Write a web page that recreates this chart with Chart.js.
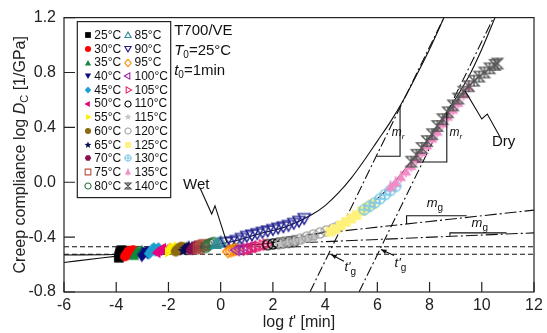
<!DOCTYPE html>
<html>
<head>
<meta charset="utf-8">
<script src="https://cdn.jsdelivr.net/npm/chart.js@4.4.0/dist/chart.umd.min.js"></script>
<style>
  body { margin: 0; background: #fff; }
</style>
</head>
<body>
<canvas id="chart" width="547" height="333"></canvas>
<script>
// axis ticks
const xTicks = [-6, -4, -2, 0, 2, 4, 6, 8, 10, 12];
const yTicks = [-0.8, -0.4, 0.0, 0.4, 0.8, 1.2];

// temperatures (legend order)
const temps = ['25°C', '30°C', '35°C', '40°C', '45°C', '50°C', '55°C', '60°C', '65°C', '70°C', '75°C', '80°C',
  '85°C', '90°C', '95°C', '100°C', '105°C', '110°C', '115°C', '120°C', '125°C', '130°C', '135°C', '140°C'];

// [log t', log Dc]
const c25 = [[-3.9, -0.55], [-3.88, -0.535], [-3.86, -0.52], [-3.84, -0.505], [-3.8, -0.495], [-3.76, -0.53], [-3.72, -0.515], [-3.68, -0.5]];
const c30 = [[-3.66, -0.54], [-3.6, -0.525], [-3.55, -0.51], [-3.5, -0.5], [-3.45, -0.52], [-3.4, -0.505], [-3.35, -0.495]];
const c35 = [[-3.32, -0.535], [-3.27, -0.52], [-3.22, -0.505], [-3.17, -0.495], [-3.12, -0.515], [-3.07, -0.5], [-3.02, -0.49]];
const c40 = [[-3.02, -0.55], [-2.96, -0.535], [-2.9, -0.52], [-2.85, -0.505], [-2.8, -0.53], [-2.75, -0.515], [-2.7, -0.5]];
const c45 = [[-2.74, -0.52], [-2.68, -0.505], [-2.62, -0.49], [-2.56, -0.48], [-2.5, -0.5], [-2.44, -0.49], [-2.38, -0.48]];
const c50 = [[-2.42, -0.515], [-2.35, -0.5], [-2.28, -0.49], [-2.21, -0.48], [-2.15, -0.5], [-2.08, -0.49], [-2.02, -0.48]];
const c55 = [[-2.02, -0.51], [-1.96, -0.495], [-1.9, -0.485], [-1.84, -0.475], [-1.78, -0.495], [-1.72, -0.48], [-1.67, -0.47]];
const c60 = [[-1.72, -0.505], [-1.65, -0.49], [-1.58, -0.48], [-1.51, -0.47], [-1.46, -0.49], [-1.4, -0.475]];
const c65 = [[-1.43, -0.5], [-1.36, -0.485], [-1.29, -0.475], [-1.22, -0.465], [-1.16, -0.485], [-1.1, -0.47]];
const c70 = [[-1.13, -0.495], [-1.06, -0.48], [-0.99, -0.47], [-0.92, -0.46], [-0.86, -0.48], [-0.8, -0.465]];
const c75 = [[-0.85, -0.485], [-0.77, -0.47], [-0.7, -0.46], [-0.63, -0.455]];
const c80 = [[-0.58, -0.475], [-0.5, -0.46], [-0.42, -0.45], [-0.34, -0.445], [-0.26, -0.44]];
const c85 = [[-0.2, -0.45], [-0.1, -0.44], [0.0, -0.43]];
const c90 = [[0.2, -0.44], [0.4, -0.435], [0.6, -0.425], [0.8, -0.41], [1.0, -0.395], [1.2, -0.385], [1.4, -0.375],
  [1.6, -0.365], [1.8, -0.355], [2.0, -0.345], [2.2, -0.335], [2.4, -0.325], [2.6, -0.315], [2.8, -0.3],
  [3.0, -0.285], [3.2, -0.265]];
const c95 = [[0.28, -0.505], [0.38, -0.5], [0.48, -0.495], [0.58, -0.49]];
const c100 = [[0.6, -0.495], [0.75, -0.49], [0.9, -0.485], [1.05, -0.48], [1.2, -0.47]];
const c105 = [[1.0, -0.49], [1.15, -0.485], [1.3, -0.475], [1.45, -0.47], [1.6, -0.46], [1.75, -0.455]];
const c110 = [[1.8, -0.455], [2.0, -0.45], [2.2, -0.445], [2.4, -0.44], [2.6, -0.437], [2.8, -0.433]];
const c115 = [[2.3, -0.45], [2.55, -0.44], [2.8, -0.43], [3.05, -0.42], [3.3, -0.41], [3.55, -0.4]];
const c120 = [[2.3, -0.445], [2.55, -0.435], [2.8, -0.425], [3.05, -0.415], [3.3, -0.4], [3.55, -0.385],
  [3.8, -0.37], [4.05, -0.355], [4.3, -0.34], [4.5, -0.325]];
const c125 = [[4.2, -0.36], [4.4, -0.34], [4.6, -0.315], [4.8, -0.29], [5.0, -0.265], [5.2, -0.24], [5.4, -0.21],
  [5.6, -0.185], [5.8, -0.16]];
const c130 = [[5.5, -0.2], [5.7, -0.175], [5.9, -0.15], [6.1, -0.12], [6.3, -0.09], [6.5, -0.06], [6.7, -0.03]];
const c135 = [[6.5, -0.03], [6.7, 0.0], [6.9, 0.04], [7.1, 0.08], [7.3, 0.12], [7.5, 0.17], [7.7, 0.22], [7.9, 0.27],
  [8.1, 0.32], [8.3, 0.37], [8.5, 0.43], [8.7, 0.48], [8.9, 0.53], [9.1, 0.58], [9.3, 0.64], [9.5, 0.7]];
const c140 = [[7.3, 0.15], [7.5, 0.2], [7.7, 0.25], [7.9, 0.3], [8.1, 0.35], [8.3, 0.41], [8.5, 0.46], [8.7, 0.51],
  [8.9, 0.56], [9.1, 0.61], [9.3, 0.66], [9.5, 0.7], [9.7, 0.74], [9.9, 0.77], [10.1, 0.8], [10.3, 0.83],
  [10.5, 0.855], [10.6, 0.865]];
const series = [c25, c30, c35, c40, c45, c50, c55, c60, c65, c70, c75, c80,
  c85, c90, c95, c100, c105, c110, c115, c120, c125, c130, c135, c140];

// master curves and guide lines
const wetCurve = [[-6, -0.585], [-4.5, -0.55], [-3.8, -0.535], [-2, -0.5], [-0.5, -0.465], [0.5, -0.43],
  [1.5, -0.375], [2.5, -0.325], [3.5, -0.235], [4, -0.17], [4.5, -0.08], [5, 0.03], [5.5, 0.16],
  [6, 0.3], [6.5, 0.44], [7, 0.6], [7.5, 0.78], [8, 0.97], [8.6, 1.22]];
const dryCurve = [[-6, -0.53], [-3.8, -0.525], [-2, -0.5], [0, -0.47], [1, -0.46], [2, -0.44], [3, -0.405],
  [4, -0.36], [4.5, -0.33], [5, -0.28], [5.5, -0.21], [6, -0.12], [6.5, -0.03], [7, 0.08], [7.5, 0.2],
  [8, 0.33], [8.5, 0.47], [9, 0.61], [9.5, 0.77], [10, 0.97], [10.55, 1.22]];
const glassLevelHigh = [[-6, -0.47], [12, -0.47]];
const glassLevelLow = [[-6, -0.525], [12, -0.525]];
const rubberyWet = [[3.42, -0.8], [8.55, 1.2]];
const rubberyDry = [[5.3, -0.8], [10.45, 1.2]];
const glassyWet = [[2.5, -0.4], [12, -0.203]];
const glassyDry = [[2.5, -0.445], [12, -0.369]];

// marker looks
const shapes = ['square', 'circle', 'triUp', 'triDown', 'diamond', 'triLeft', 'triRight', 'circle', 'star', 'hexagon',
  'square', 'circle', 'triUp', 'triDown', 'diamond', 'triLeft', 'triRight', 'circle', 'star', 'circle',
  'square', 'circlePlus', 'triStem', 'hourglass'];
const colors = ['#000000', '#ff0000', '#138a3c', '#0a0a80', '#1e9fd0', '#e6007e', '#ffee00', '#8c6a12', '#0a0a55', '#8a0f4e',
  '#b5533c', '#2f6f3f', '#2f8f9f', '#1c1c8c', '#ff8c00', '#a020a0', '#e8206f', '#000000', '#c4c4c4', '#a0a0a0',
  '#fff27a', '#7fc8e8', '#f38cc6', '#555555'];
const filled = [true, true, true, true, true, true, true, true, true, true,
  false, false, false, false, false, false, false, false, true, false,
  true, false, true, false];

const FONT = '"Liberation Sans", Arial, sans-serif';

function makeMarker(shape, color, fill, r) {
  const size = Math.ceil(2 * r + 4);
  const cv = document.createElement('canvas');
  cv.width = size; cv.height = size;
  const g = cv.getContext('2d');
  g.translate(size / 2, size / 2);
  g.strokeStyle = color; g.fillStyle = color;
  g.lineWidth = r > 4 ? 1.4 : 1.1;
  const poly = (pts) => {
    g.beginPath();
    pts.forEach((p, i) => i ? g.lineTo(p[0], p[1]) : g.moveTo(p[0], p[1]));
    g.closePath();
  };
  const tri = (rot) => {
    const pts = [];
    for (let k = 0; k < 3; k++) {
      const a = rot + k * 2 * Math.PI / 3;
      pts.push([r * Math.sin(a), -r * Math.cos(a) + (rot === 0 ? r * 0.2 : rot === Math.PI ? -r * 0.2 : 0)]);
    }
    poly(pts);
  };
  switch (shape) {
    case 'square': g.beginPath(); g.rect(-r * 0.8, -r * 0.8, r * 1.6, r * 1.6); break;
    case 'circle': g.beginPath(); g.arc(0, 0, r * 0.85, 0, 2 * Math.PI); break;
    case 'triUp': tri(0); break;
    case 'triDown': tri(Math.PI); break;
    case 'triLeft': tri(-Math.PI / 2); break;
    case 'triRight': tri(Math.PI / 2); break;
    case 'diamond': poly([[0, -r], [r * 0.9, 0], [0, r], [-r * 0.9, 0]]); break;
    case 'star': {
      const pts = [];
      for (let k = 0; k < 10; k++) {
        const rr = k % 2 ? r * 0.45 : r;
        const a = k * Math.PI / 5;
        pts.push([rr * Math.sin(a), -rr * Math.cos(a)]);
      }
      poly(pts); break;
    }
    case 'hexagon': {
      const pts = [];
      for (let k = 0; k < 6; k++) {
        const a = k * Math.PI / 3;
        pts.push([r * 0.9 * Math.cos(a), r * 0.9 * Math.sin(a)]);
      }
      poly(pts); break;
    }
    case 'circlePlus': g.beginPath(); g.arc(0, 0, r * 0.85, 0, 2 * Math.PI); break;
    case 'triStem': tri(0); break;
    case 'hourglass': poly([[-r * 0.85, -r * 0.85], [r * 0.85, -r * 0.85], [-r * 0.85, r * 0.85], [r * 0.85, r * 0.85]]); break;
  }
  if (fill) g.fill(); else g.stroke();
  if (shape === 'circlePlus' || shape === 'hourglass' || shape === 'triStem') {
    g.beginPath();
    g.moveTo(0, -r); g.lineTo(0, r);
    if (shape === 'circlePlus') { g.moveTo(-r, 0); g.lineTo(r, 0); }
    g.stroke();
  }
  return cv;
}

const plotMarkers = series.map((s, i) => makeMarker(shapes[i], colors[i], filled[i], i === 13 ? 7 : 6));
const legendMarkers = series.map((s, i) => makeMarker(shapes[i], colors[i], filled[i], 3.6));

const toXY = (arr) => arr.map(p => ({ x: p[0], y: p[1] }));

const datasets = series.map((s, i) => ({
  label: temps[i],
  data: toXY(s),
  pointStyle: plotMarkers[i],
  pointRadius: 6,
  showLine: false,
  order: -i
}));

function guide(arr, dash, smooth) {
  return {
    data: toXY(arr), showLine: true, pointRadius: 0, borderColor: '#111', borderWidth: 1.1,
    borderDash: dash, tension: smooth ? 0.4 : 0, cubicInterpolationMode: smooth ? 'monotone' : 'default',
    order: 10
  };
}
datasets.push(guide(wetCurve, [], true));
datasets.push(guide(dryCurve, [], true));
datasets.push(guide(glassLevelHigh, [5, 3], false));
datasets.push(guide(glassLevelLow, [5, 3], false));
datasets.push(guide(rubberyWet, [10, 3, 2, 3], false));
datasets.push(guide(rubberyDry, [10, 3, 2, 3], false));
datasets.push(guide(glassyWet, [12, 3, 2, 3], false));
datasets.push(guide(glassyDry, [12, 3, 2, 3], false));

// annotation geometry (data coordinates)
const slopeMarks = [
  [[5.97, 0.189], [6.87, 0.189], [6.87, 0.554]],
  [[7.51, 0.148], [8.66, 0.148], [8.66, 0.509]],
  [[7.12, -0.304], [7.12, -0.244], [9.42, -0.244]],
  [[8.78, -0.39], [8.78, -0.369], [10.95, -0.369]],
  [[-0.79, -0.042], [-0.343, -0.232], [-0.217, -0.172], [0.231, -0.437]],
  [[9.36, 0.666], [10.0, 0.461], [10.21, 0.497], [10.7, 0.329]]
];
const arrows = [
  [[4.72, -0.576], [4.23, -0.526]],
  [[6.64, -0.534], [6.14, -0.49]]
];

function richText(ctx, parts, x, y, align) {
  const fontOf = p => (p[2] ? 'italic ' : '') + p[1] + 'px ' + FONT;
  const widths = parts.map(p => { ctx.font = fontOf(p); return ctx.measureText(p[0]).width; });
  const total = widths.reduce((a, b) => a + b, 0);
  let cx = align === 'center' ? x - total / 2 : x;
  parts.forEach((p, i) => {
    ctx.font = fontOf(p);
    ctx.fillText(p[0], cx, y + (p[3] || 0));
    cx += widths[i];
  });
}

const annotate = {
  id: 'annotate',
  afterDatasetsDraw(chart) {
    const { ctx, chartArea: a, scales } = chart;
    const px = v => scales.x.getPixelForValue(v);
    const py = v => scales.y.getPixelForValue(v);
    ctx.save();
    ctx.strokeStyle = '#111';
    ctx.fillStyle = '#111';
    ctx.lineWidth = 1.1;
    ctx.setLineDash([]);
    slopeMarks.forEach(path => {
      ctx.beginPath();
      path.forEach((p, i) => i ? ctx.lineTo(px(p[0]), py(p[1])) : ctx.moveTo(px(p[0]), py(p[1])));
      ctx.stroke();
    });
    arrows.forEach(([from, to]) => {
      const x0 = px(from[0]), y0 = py(from[1]), x1 = px(to[0]), y1 = py(to[1]);
      const ang = Math.atan2(y1 - y0, x1 - x0);
      ctx.beginPath(); ctx.moveTo(x0, y0); ctx.lineTo(x1, y1); ctx.stroke();
      ctx.beginPath();
      ctx.moveTo(x1, y1);
      ctx.lineTo(x1 - 6 * Math.cos(ang - 0.4), y1 - 6 * Math.sin(ang - 0.4));
      ctx.lineTo(x1 - 6 * Math.cos(ang + 0.4), y1 - 6 * Math.sin(ang + 0.4));
      ctx.closePath(); ctx.fill();
    });

    // text labels
    ctx.textBaseline = 'alphabetic';
    ctx.textAlign = 'left';
    richText(ctx, [['T700/VE', 15]], px(-1.78), py(1.07));
    richText(ctx, [['T', 15, true], ['0', 10, false, 3], ['=25°C', 15]], px(-1.78), py(0.926));
    richText(ctx, [['t', 15, true], ['0', 10, false, 3], ['=1min', 15]], px(-1.78), py(0.78));
    richText(ctx, [['Wet', 15]], px(-1.44), py(-0.049));
    richText(ctx, [['Dry', 15]], px(10.39), py(0.262));
    richText(ctx, [['m', 12, true], ['r', 8, true, 3]], px(6.55), py(0.334));
    richText(ctx, [['m', 12, true], ['r', 8, true, 3]], px(8.76), py(0.334));
    richText(ctx, [['m', 13, true], ['g', 10, false, 4]], px(7.89), py(-0.18));
    richText(ctx, [['m', 13, true], ['g', 10, false, 4]], px(9.61), py(-0.323));
    richText(ctx, [["t'", 13, true], ['g', 10, false, 4]], px(4.74), py(-0.645));
    richText(ctx, [["t'", 13, true], ['g', 10, false, 4]], px(6.66), py(-0.615));

    // legend box
    const lx = a.left + 13.3, ly = a.top + 4, lw = 93.4, lh = 176;
    ctx.fillStyle = '#fff';
    ctx.fillRect(lx, ly, lw, lh);
    ctx.strokeStyle = '#222'; ctx.lineWidth = 1.2;
    ctx.strokeRect(lx, ly, lw, lh);
    ctx.fillStyle = '#111';
    ctx.font = '12px ' + FONT;
    ctx.textBaseline = 'middle';
    temps.forEach((t, i) => {
      const col = i < 12 ? 0 : 1;
      const row = i % 12;
      const cy = ly + 13.5 + row * 13.7;
      const mx = lx + (col ? 51 : 10.4);
      const tx = lx + (col ? 57.2 : 17);
      const m = legendMarkers[i];
      ctx.drawImage(m, Math.round(mx - m.width / 2), Math.round(cy - m.height / 2));
      ctx.fillText(t, tx, cy + 0.5);
    });

    // frame and inward ticks
    ctx.strokeStyle = '#222'; ctx.lineWidth = 1.2;
    ctx.strokeRect(a.left, a.top, a.right - a.left, a.bottom - a.top);
    ctx.beginPath();
    xTicks.forEach(v => { const X = px(v); ctx.moveTo(X, a.bottom); ctx.lineTo(X, a.bottom - 10); });
    yTicks.forEach(v => { const Y = py(v); ctx.moveTo(a.left, Y); ctx.lineTo(a.left + 11, Y); });
    ctx.stroke();

    // axis titles
    ctx.fillStyle = '#222';
    ctx.textBaseline = 'alphabetic';
    richText(ctx, [['log ', 16], ['t', 16, true], ["' [min]", 16]], (a.left + a.right) / 2, 327, 'center');
    ctx.translate(25, (a.top + a.bottom) / 2);
    ctx.rotate(-Math.PI / 2);
    richText(ctx, [['Creep compliance log ', 16], ['D', 16, true], ['C', 11, false, 3], [' [1/GPa]', 16]], 0, 0, 'center');
    ctx.restore();
  }
};

new Chart(document.getElementById('chart'), {
  type: 'scatter',
  data: { datasets: datasets },
  options: {
    responsive: false,
    animation: false,
    events: [],
    layout: { padding: { top: 15, right: 13, left: 0, bottom: 0 } },
    plugins: { legend: { display: false }, tooltip: { enabled: false } },
    scales: {
      x: {
        type: 'linear', min: -6, max: 12,
        afterBuildTicks: s => { s.ticks = xTicks.map(v => ({ value: v })); },
        ticks: { font: { family: FONT, size: 16 }, color: '#222', padding: 4, maxRotation: 0, autoSkip: false },
        grid: { display: false, drawTicks: false },
        border: { display: false },
        afterFit: s => { s.height = 41; }
      },
      y: {
        type: 'linear', min: -0.8, max: 1.2,
        afterBuildTicks: s => { s.ticks = yTicks.map(v => ({ value: v })); },
        ticks: { font: { family: FONT, size: 16 }, color: '#222', padding: 8, callback: v => v.toFixed(1) },
        grid: { display: false, drawTicks: false },
        border: { display: false },
        afterFit: s => { s.width = 64; }
      }
    }
  },
  plugins: [annotate]
});
</script>
</body>
</html>
